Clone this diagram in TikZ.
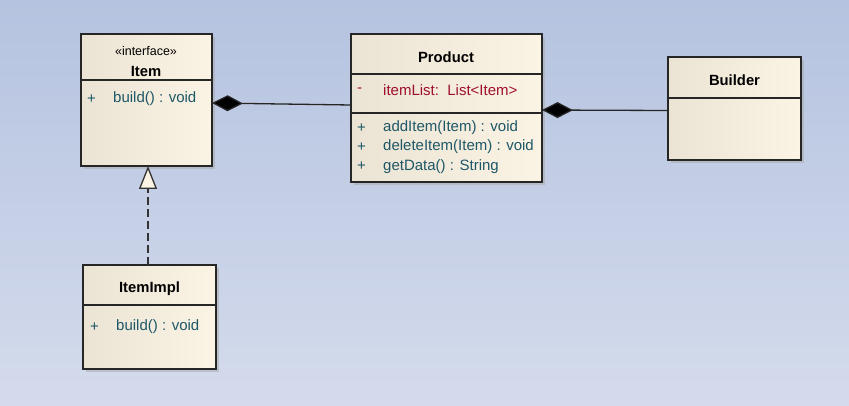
\documentclass[tikz,border=0pt]{standalone}
\usepackage{fontspec}
\setmainfont{Liberation Sans}
\usetikzlibrary{arrows.meta,shadows}
\definecolor{bgtop}{HTML}{B5C3E0}
\definecolor{bgbot}{HTML}{D4DBEC}
\definecolor{boxl}{HTML}{EBE3D3}
\definecolor{boxr}{HTML}{FBF3E4}
\definecolor{teal}{HTML}{1E5868}
\definecolor{crim}{HTML}{A0102E}
\definecolor{edge}{HTML}{262626}
\tikzset{
  cls/.style={draw=edge, line width=1.3pt, left color=boxl, right color=boxr,
    anchor=north west, inner sep=0pt, outer sep=0pt,
    drop shadow={shadow xshift=3pt, shadow yshift=-3pt, fill=gray!70, opacity=0.5}},
  divider/.style={draw=edge, line width=1.1pt},
  title/.style={font=\fontsize{14.8}{16}\selectfont\bfseries, text=black, inner sep=0pt},
  stereo/.style={font=\fontsize{12.5}{14}\selectfont, text=black, inner sep=0pt},
  member/.style={font=\fontsize{15}{16}\selectfont, text=teal, anchor=west, inner sep=0pt},
  priv/.style={font=\fontsize{15}{16}\selectfont, text=crim, anchor=west, inner sep=0pt},
  comp/.style={draw=black!85, line width=1.3pt, {Diamond[length=31pt,width=16pt,fill=black]}-},
  realize/.style={draw=black!80, line width=1.3pt, dash pattern=on 8pt off 4pt,
    -{Triangle[open,length=23pt,width=18pt,fill=boxr]}},
}
\begin{document}
\begin{tikzpicture}[x=1pt,y=-1pt]
\useasboundingbox (0,0) rectangle (849,406);
\fill[top color=bgtop, bottom color=bgbot] (0,0) rectangle (849,406);

% Item
\node[cls, minimum width=131pt, minimum height=132pt] (item) at (81,34) {};
\draw[divider] (81,80) coordinate (itemd1) -- (212,80) coordinate (itemd2);
\node[stereo] (itemst) at (146,51.5) {«interface»};
\node[title] (itemt) at (146,71.5) {Item};
\node[member] (itemp) at (87,99) {+};
\node[member] (itemm) at (113,99) {build() : void};

% Product
\node[cls, minimum width=191pt, minimum height=148pt] (prod) at (351,34) {};
\draw[divider] (351,74) coordinate (prodd1) -- (542,74) coordinate (prodd2);
\draw[divider] (351,113) coordinate (prodd3) -- (542,113) coordinate (prodd4);
\node[title] (prodt) at (446,57.5) {Product};
\node[priv] (prodmin) at (357,90) {-};
\node[priv] (proda) at (383,90) {itemList:\ \ List<Item>};
\node[member] (prodp1) at (357,128) {+};
\node[member] (prodm1) at (383,128) {addItem(Item) : void};
\node[member] (prodp2) at (357,147) {+};
\node[member] (prodm2) at (383,147) {deleteItem(Item) : void};
\node[member] (prodp3) at (357,166.5) {+};
\node[member] (prodm3) at (383,166.5) {getData() : String};

% Builder
\node[cls, minimum width=133pt, minimum height=103pt] (build) at (668,57) {};
\draw[divider] (668,98) coordinate (buildd1) -- (801,98) coordinate (buildd2);
\node[title] (buildt) at (734.5,80.5) {Builder};

% ItemImpl
\node[cls, minimum width=133pt, minimum height=104pt] (impl) at (83,265) {};
\draw[divider] (83,305) coordinate (impld1) -- (216,305) coordinate (impld2);
\node[title] (implt) at (149.5,288.5) {ItemImpl};
\node[member] (implp) at (90,327) {+};
\node[member] (implm) at (116,327) {build() : void};

% connectors
\draw[comp] ([yshift=-3pt]item.east) -- ([yshift=3pt]prod.west);
\draw[comp] ([yshift=-2pt]prod.east) -- ([yshift=-2pt]build.west);
\draw[realize] ([xshift=-1.5pt]impl.north) -- ([xshift=-1.5pt]impl.north |- item.south);
\end{tikzpicture}
\end{document}
